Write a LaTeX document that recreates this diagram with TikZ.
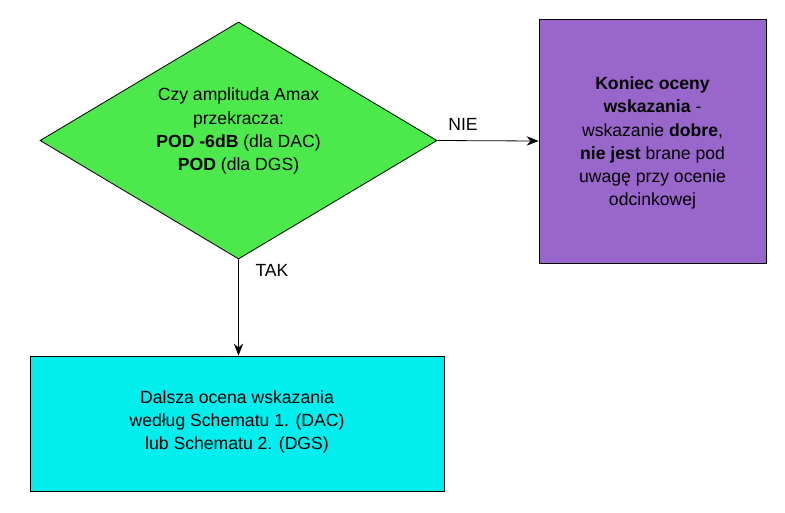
\documentclass[tikz,border=0pt]{standalone}
\usepackage{fontspec}
\setmainfont{Liberation Sans}
\usetikzlibrary{shapes.geometric,arrows.meta}
\begin{document}
\begin{tikzpicture}[x=0.75pt,y=-0.75pt,
  txt/.style={font=\fontsize{13.2}{17.3}\selectfont,align=center},
  box/.style={draw=black,line width=0.6pt,inner sep=0pt},
  arr/.style={draw=black,line width=0.6pt,-{Stealth[length=9pt,width=7pt]}}]
\useasboundingbox (0,0) rectangle (785,512);
\node[box,diamond,fill={rgb,255:red,76;green,232;blue,76},minimum width=297.75pt,minimum height=177.75pt] (d) at (238.5,140.5) {};
\node[txt] at (238.5,131) {Czy amplituda Amax\\przekracza:\\\textbf{POD -6dB} (dla DAC)\\\textbf{POD} (dla DGS)};
\node[box,fill={rgb,255:red,153;green,102;blue,204},minimum width=170.25pt,minimum height=183pt] (p) at (652.5,141) {};
\node[txt] at (652.5,143) {\textbf{Koniec oceny}\\\textbf{wskazania} -\\wskazanie \textbf{dobre},\\\textbf{nie jest} brane pod\\uwagę przy ocenie\\odcinkowej};
\node[box,fill={rgb,255:red,0;green,238;blue,238},minimum width=310.5pt,minimum height=101.25pt] (c) at (237,423.5) {};
\node[txt] at (237,422) {Dalsza ocena wskazania\\według Schematu 1. (DAC)\\lub Schematu 2. (DGS)};
\draw[arr] (d.east) -- (p.west);
\draw[arr] (d.south) -- (d.south |- c.north);
\node[txt] at (463,124) {NIE};
\node[txt] at (272,270) {TAK};
\end{tikzpicture}
\end{document}
